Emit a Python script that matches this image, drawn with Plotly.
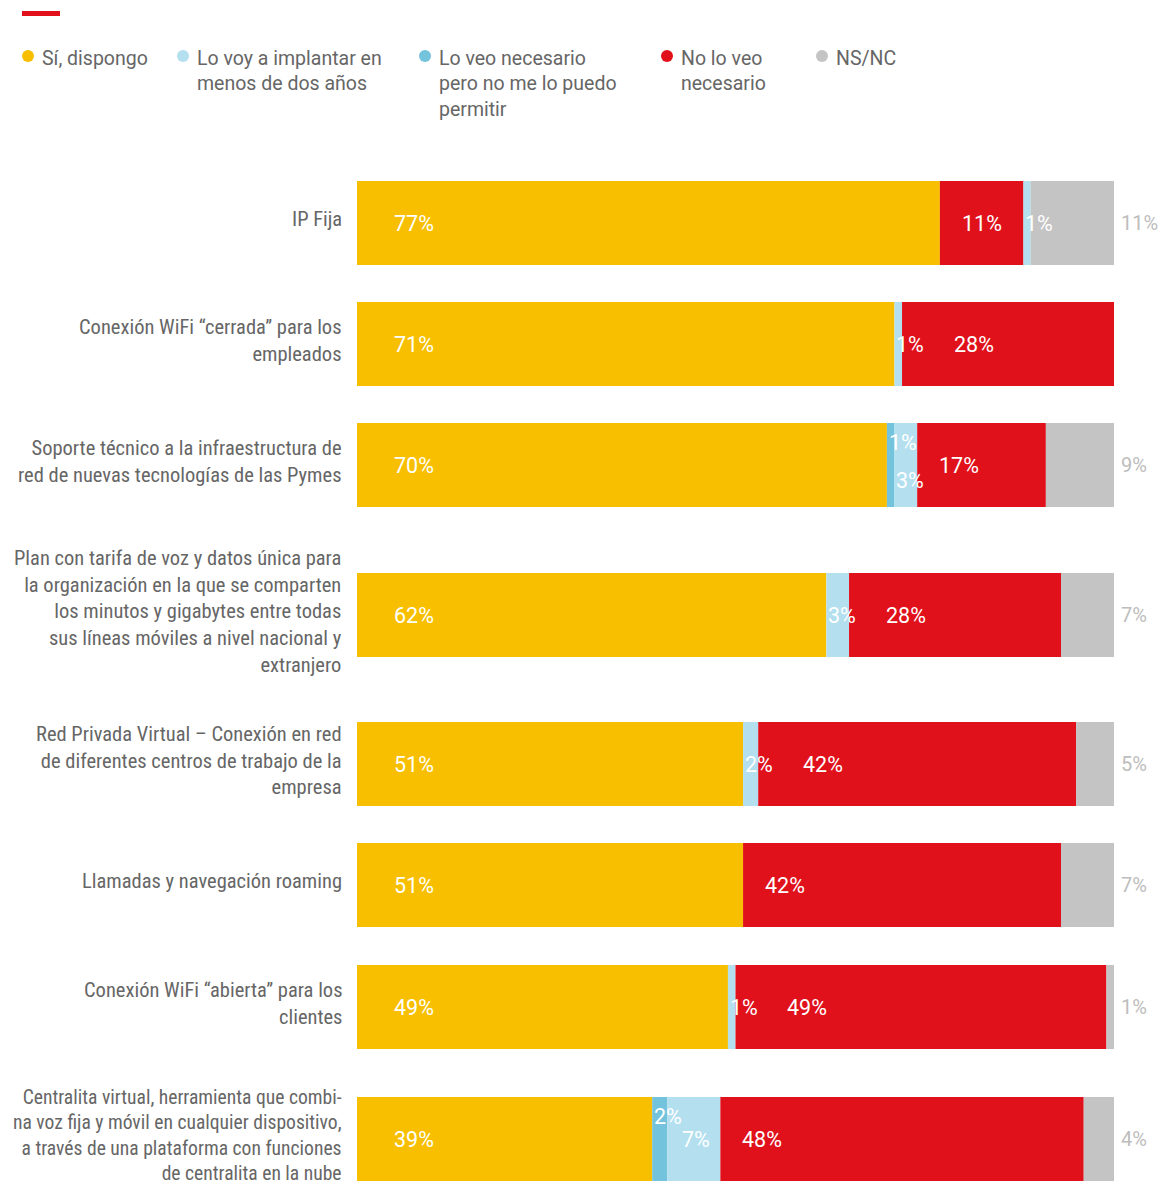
import plotly.graph_objects as go

# ---------------- data ----------------
categories = [
    "IP Fija",
    "Conexión WiFi “cerrada” para los<br>empleados",
    "Soporte técnico a la infraestructura de<br>red de nuevas tecnologías de las Pymes",
    "Plan con tarifa de voz y datos única para<br>la organización en la que se comparten<br>los minutos y gigabytes entre todas<br>sus líneas móviles a nivel nacional y<br>extranjero",
    "Red Privada Virtual – Conexión en red<br>de diferentes centros de trabajo de la<br>empresa",
    "Llamadas y navegación roaming",
    "Conexión WiFi “abierta” para los<br>clientes",
    "Centralita virtual, herramienta que combi-<br>na voz fija y móvil en cualquier dispositivo,<br>a través de una plataforma con funciones<br>de centralita en la nube",
]
si_dispongo = [77, 71, 70, 62, 51, 51, 49, 39]
lo_voy_implantar = [1, 1, 3, 3, 2, 0, 1, 7]
necesario_no_puedo = [0, 0, 1, 0, 0, 0, 0, 2]
no_necesario = [11, 28, 17, 28, 42, 42, 49, 48]
ns_nc = [11, 0, 9, 7, 5, 7, 1, 4]

legend_labels = [
    "Sí, dispongo",
    "Lo voy a implantar en<br>menos de dos años",
    "Lo veo necesario<br>pero no me lo puedo<br>permitir",
    "No lo veo<br>necesario",
    "NS/NC",
]

# ---------------- styles / layout ----------------
C_YEL = "#F7BF00"
C_LB = "#B3DFEF"
C_DB = "#73C3DD"
C_RED = "#E0111B"
C_GRY = "#C4C4C4"
C_TXT = "#666666"
C_OUT = "#BDBDBD"

OFF = 8                      # page body margin in the browser
W, H = 1167 - OFF, 1182 - OFF
ML = 357 - OFF
PW = 757
MR = W - ML - PW
PX_PER_UNIT = PW / 100.0

row_gaps = [121, 121, 150, 149, 121, 122, 132]   # spacing between rows (px)
TOP_OFF = 223 - OFF
BOT_OFF = H - (1139 - OFF)
BAR_H = 84

ypos = [0]
for g in row_gaps:
    ypos.append(ypos[-1] + g)

series = {
    "si": (si_dispongo, C_YEL),
    "db": (necesario_no_puedo, C_DB),
    "lb": (lo_voy_implantar, C_LB),
    "no": (no_necesario, C_RED),
    "ns": (ns_nc, C_GRY),
}
default_order = ["si", "db", "lb", "no", "ns"]
row_orders = [["si", "db", "no", "lb", "ns"]] + [default_order] * 7

# compute bases per row
bases = {k: [0] * len(categories) for k in series}
for i, order in enumerate(row_orders):
    acc = 0
    for k in order:
        bases[k][i] = acc
        acc += series[k][0][i]

fig = go.Figure()
for k in default_order:
    vals, col = series[k]
    fig.add_trace(go.Bar(
        y=ypos, x=vals, base=bases[k], orientation="h",
        marker=dict(color=col, line=dict(width=0)),
        width=BAR_H, showlegend=False, hoverinfo="skip",
    ))

VAL_FONT = dict(family="Roboto, Open Sans, sans-serif", size=21.5, color="white")
CAT_FAMILY = "Liberation Sans Narrow, Roboto Condensed, Arial Narrow, sans-serif"
annotations = []


def lab_w(v):
    return 10.5 * len(str(v)) + 17


for i in range(len(categories)):
    has_db = necesario_no_puedo[i] > 0
    last_end_px = None  # end of last label on the centre line (px from plot left)
    for k in row_orders[i]:
        v = series[k][0][i]
        if v <= 0:
            continue
        start = bases[k][i]
        start_px = start * PX_PER_UNIT
        txt = f"{v}%"
        if k == "ns":
            annotations.append(dict(
                x=100, y=ypos[i], xref="x", yref="y", text=txt, showarrow=False,
                xanchor="left", xshift=5,
                font=dict(family=VAL_FONT["family"], size=20, color=C_OUT)))
            continue
        yshift = 0
        if k == "si":
            pad = 35
        elif k == "db":
            pad = 0
            yshift = 23
        elif k == "lb":
            pad = 13 if v >= 5 else 0
            if has_db and v < 5:
                yshift = -15
        else:  # red
            pad = 20
            if last_end_px is not None:
                pad = max(pad, last_end_px + 30 - start_px)
        annotations.append(dict(
            x=start, y=ypos[i], xref="x", yref="y", text=txt, showarrow=False,
            xanchor="left", xshift=pad, yshift=yshift, font=VAL_FONT))
        if yshift == 0:
            last_end_px = start_px + pad + lab_w(v)

    # category label
    n_lines = categories[i].count("<br>") + 1
    size = 19.6 if n_lines == 4 else 20.5
    annotations.append(dict(
        x=0, y=ypos[i], xref="x", yref="y", text=categories[i], showarrow=False,
        xanchor="right", yanchor="middle", align="right", xshift=-13, yshift=4,
        font=dict(family=CAT_FAMILY, size=size, color=C_TXT)))


def px2x(px):
    return (px - OFF - ML) / PW


def px2y(py):
    return 1 - (py - OFF) / H


# legend
leg_dot_x = [28, 183, 425, 667, 822]
leg_cols = [C_YEL, C_LB, C_DB, C_RED, C_GRY]
shapes = []
for lx, col, txt in zip(leg_dot_x, leg_cols, legend_labels):
    r = 6
    shapes.append(dict(type="circle", xref="paper", yref="paper",
                       x0=px2x(lx - r), x1=px2x(lx + r), y0=px2y(56 + r), y1=px2y(56 - r),
                       fillcolor=col, line=dict(width=0)))
    annotations.append(dict(
        x=px2x(lx + 12), y=px2y(45), xref="paper", yref="paper", text=txt,
        showarrow=False, xanchor="left", yanchor="top", align="left",
        font=dict(family="Roboto, Open Sans, sans-serif", size=19.5, color=C_TXT)))

# red accent line
shapes.append(dict(type="rect", xref="paper", yref="paper",
                   x0=px2x(22), x1=px2x(60), y0=px2y(16), y1=px2y(11),
                   fillcolor=C_RED, line=dict(width=0)))

fig.update_layout(
    width=W, height=H, barmode="overlay",
    margin=dict(l=ML, r=MR, t=0, b=0),
    paper_bgcolor="white", plot_bgcolor="white",
    xaxis=dict(range=[0, 100], visible=False, fixedrange=True),
    yaxis=dict(range=[ypos[-1] + BOT_OFF, -TOP_OFF], visible=False, fixedrange=True),
    annotations=annotations, shapes=shapes,
)

fig.write_html("out.html")
